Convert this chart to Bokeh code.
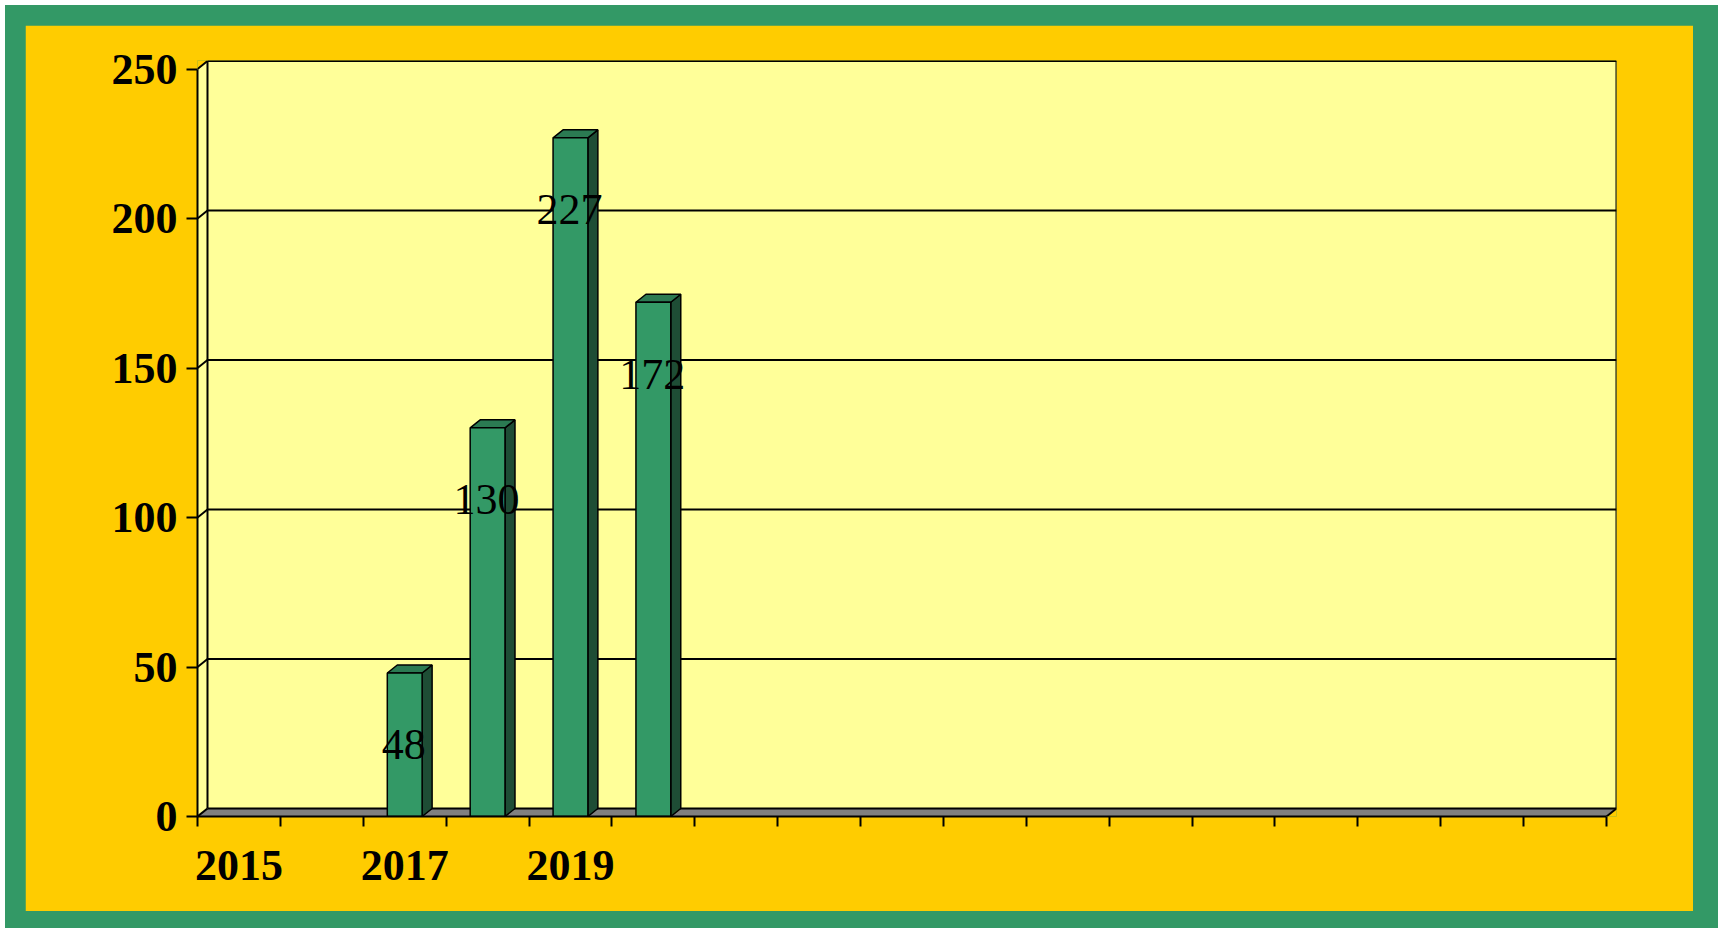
from bokeh.plotting import figure
from bokeh.layouts import column
from bokeh.models import Range1d, FixedTicker, ColumnDataSource
from bokeh.core.properties import value
from bokeh.embed import file_html
from bokeh.resources import INLINE

# ---- data ----
categories = ["2015", "2016", "2017", "2018", "2019", "2020"] + [""] * 11
bar_years = ["2017", "2018", "2019", "2020"]
bar_values = [48, 130, 227, 172]
y_ticks = [0, 50, 100, 150, 200, 250]
label_step = 2

# ---- style ----
GREEN = "#339966"
GOLD = "#FFCC00"
WALL = "#FFFF99"
FLOOR = "#808080"
SIDE = "#1E4D35"
TOPC = "#2B7A52"
FONT = "Liberation Serif"
W, H = 1668, 886
n = len(categories)
y_max = y_ticks[-1]
dx = 0.1206   # 3D depth, category units
dy = 2.68     # 3D depth, value units
bw = 0.42     # bar width, category units

p = figure(width=W, height=H, output_backend="svg", toolbar_location=None,
           x_range=Range1d(0, n + dx), y_range=Range1d(0, y_max + dy + 0.19),
           min_border_left=172, min_border_right=77, min_border_top=35,
           min_border_bottom=95,
           background_fill_color=GOLD, border_fill_color=GOLD,
           outline_line_color=None)
p.grid.visible = False

# walls and floor
p.patch(x=[0, 0, dx, n + dx, n + dx, n], y=[0, y_max, y_max + dy, y_max + dy, dy, 0],
        fill_color=WALL, line_color=None)
p.patch(x=[0, dx, n + dx, n], y=[0, dy, dy, 0], fill_color=FLOOR, line_color=None)

# back wall grid lines + side-wall diagonals
gx = [[dx, n + dx] for t in y_ticks]
gy = [[t + dy, t + dy] for t in y_ticks]
gx += [[dx, dx], [n + dx, n + dx]]
gy += [[dy, y_max + dy], [dy, y_max + dy]]
gx += [[0, dx] for t in y_ticks]
gy += [[t, t + dy] for t in y_ticks]
gx += [[n, n + dx]]
gy += [[0, dy]]
p.multi_line(xs=gx, ys=gy, line_color="black", line_width=2)

# bars (3D)
xc = [categories.index(yr) + 0.5 for yr in bar_years]
side_xs = [[c + bw / 2, c + bw / 2 + dx, c + bw / 2 + dx, c + bw / 2] for c in xc]
side_ys = [[0, dy, v + dy, v] for v in bar_values]
top_xs = [[c - bw / 2, c - bw / 2 + dx, c + bw / 2 + dx, c + bw / 2] for c in xc]
top_ys = [[v, v + dy, v + dy, v] for v in bar_values]
p.patches(xs=side_xs, ys=side_ys, fill_color=SIDE, line_color="black", line_width=1.5)
p.patches(xs=top_xs, ys=top_ys, fill_color=TOPC, line_color="black", line_width=1.5)
src = ColumnDataSource(dict(x=xc, top=bar_values, label=[str(v) for v in bar_values]))
p.vbar(x="x", top="top", bottom=0, width=bw, source=src, fill_color=GREEN,
       line_color="black", line_width=1.5)
p.text(x="x", y="top", text="label", source=src, x_offset=-1, y_offset=72,
       text_align="center", text_baseline="middle", text_font=value(FONT),
       text_font_size="44px", text_color="black")

# axes
ax = p.yaxis[0]
ax.ticker = FixedTicker(ticks=y_ticks, minor_ticks=[])
ax.bounds = (0, y_max)
ax.axis_line_width = 2
ax.major_tick_line_width = 2
ax.major_tick_out = 11
ax.major_tick_in = 0
ax.minor_tick_out = 0
ax.minor_tick_in = 0
ax.major_label_text_font = FONT
ax.major_label_text_font_style = "bold"
ax.major_label_text_font_size = "44px"
ax.major_label_text_color = "black"
ax.major_label_standoff = 9

bx = p.xaxis[0]
lab_idx = [i for i in range(0, n, label_step) if categories[i]]
bx.ticker = FixedTicker(ticks=[i + 0.5 for i in lab_idx], minor_ticks=list(range(n + 1)))
bx.major_label_overrides = {i + 0.5: categories[i] for i in lab_idx}
bx.bounds = (0, n)
bx.axis_line_width = 2
bx.major_tick_out = 0
bx.major_tick_in = 0
bx.minor_tick_out = 10
bx.minor_tick_in = 0
bx.minor_tick_line_width = 2
bx.minor_tick_line_color = "black"
bx.major_label_text_font = FONT
bx.major_label_text_font_style = "bold"
bx.major_label_text_font_size = "44px"
bx.major_label_text_color = "black"
bx.major_label_standoff = 24

# green frame around the gold panel
page = column(p, styles={"background-color": GREEN,
                         "padding": "20px 25px 17px 20px",
                         "margin": "5px 0px 0px 5px"})

open("out.html", "w").write(file_html(page, INLINE))
